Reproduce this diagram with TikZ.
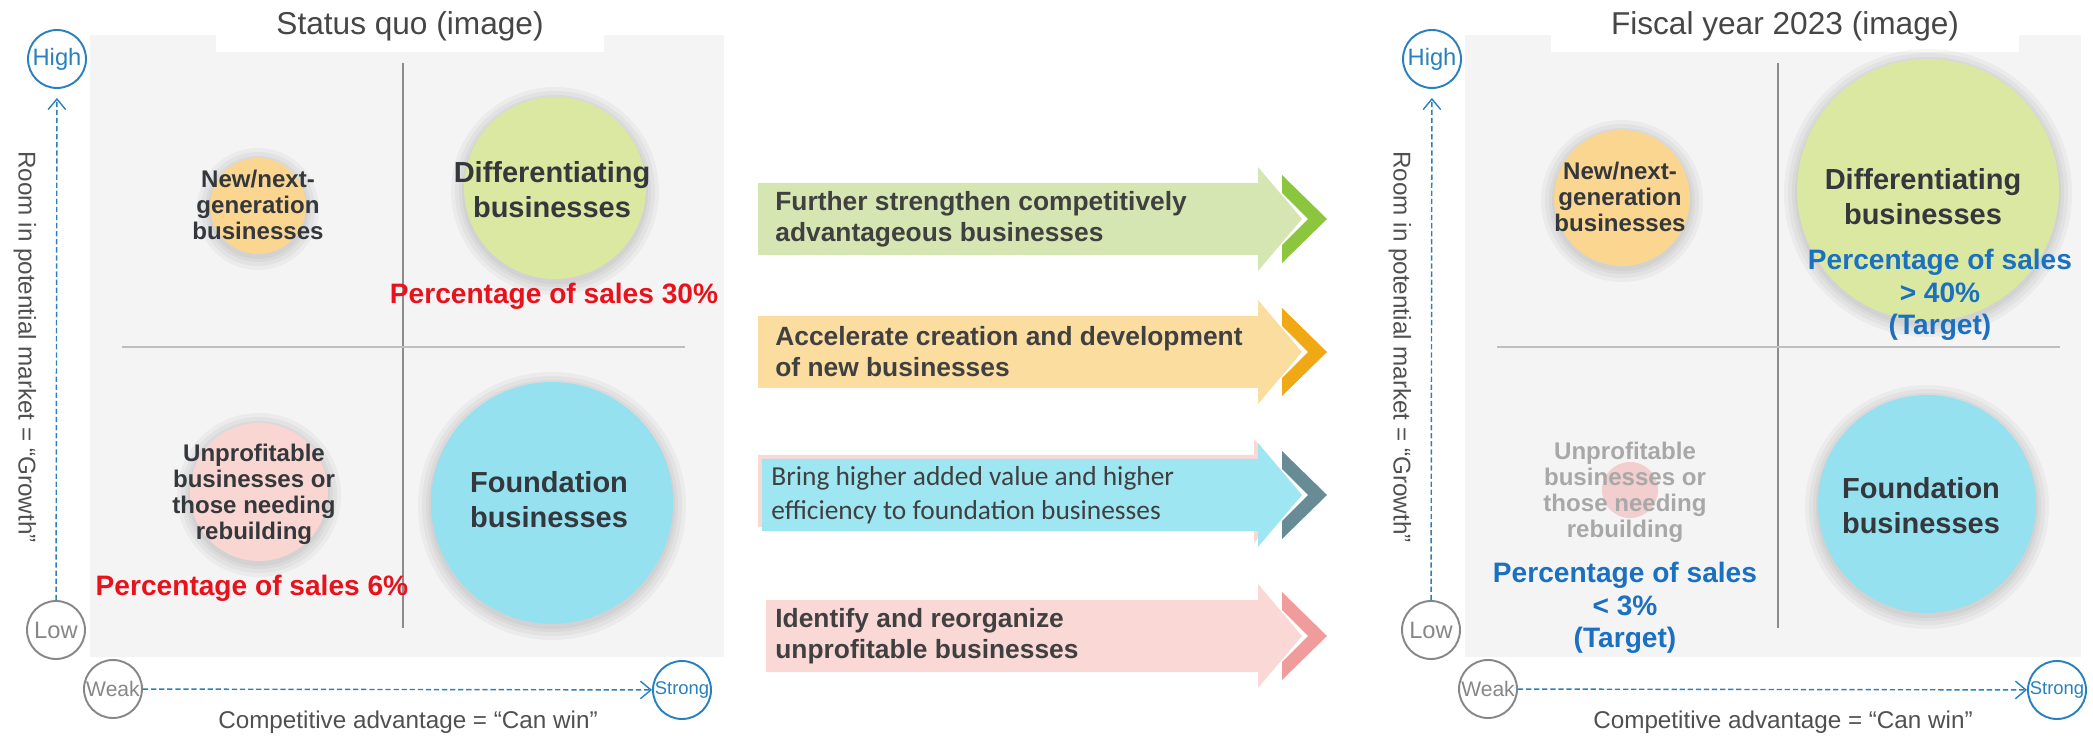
\documentclass[tikz,border=0pt]{standalone}
\usepackage{fontspec}
\setmainfont{Liberation Sans}
\newfontfamily\calibri{Carlito}
\usetikzlibrary{arrows.meta,positioning}
\definecolor{panelgray}{RGB}{244,244,244}
\definecolor{divgray}{RGB}{140,140,140}
\definecolor{divlight}{RGB}{190,190,190}
\definecolor{axisblue}{RGB}{40,128,190}
\definecolor{axisgray}{RGB}{135,135,135}
\definecolor{titlegray}{RGB}{70,70,70}
\definecolor{labelgray}{RGB}{80,80,80}
\definecolor{txtdark}{RGB}{52,56,60}
\definecolor{arrtext}{RGB}{64,64,64}
\definecolor{fadegray}{RGB}{168,168,168}
\definecolor{salesred}{RGB}{232,18,28}
\definecolor{salesblue}{RGB}{28,112,192}
\definecolor{bubOrange}{RGB}{250,214,145}
\definecolor{bubGreen}{RGB}{218,232,162}
\definecolor{bubPink}{RGB}{250,214,210}
\definecolor{bubBlue}{RGB}{150,225,240}
\definecolor{blobpink}{RGB}{242,190,190}
\definecolor{arrGreen}{RGB}{214,230,178}
\definecolor{chevGreen}{RGB}{140,198,63}
\definecolor{arrOrange}{RGB}{251,221,160}
\definecolor{chevOrange}{RGB}{240,168,20}
\definecolor{arrBlue}{RGB}{158,230,242}
\definecolor{chevBlue}{RGB}{104,140,150}
\definecolor{arrPink}{RGB}{249,216,214}
\definecolor{chevPink}{RGB}{240,156,156}

\begin{document}
\begin{tikzpicture}[x=0.02cm,y=-0.02cm,
  ring/.style={circle,draw,line width=1.1pt,minimum size=1.16cm,inner sep=0pt},
  achse/.style={dash pattern=on 3pt off 1.6pt,line width=0.8pt,draw=axisblue,
    -{Straight Barb[length=6pt,width=10pt,line width=0.8pt]}},
  blase/.style={circle,inner sep=0pt,draw=none},
  klein/.style={font=\bfseries\fontsize{13.7}{14.8}\selectfont,text=txtdark,align=center},
  gross/.style={font=\bfseries\fontsize{16.5}{20}\selectfont,text=txtdark,align=center},
  anteil/.style={font=\bfseries\fontsize{16}{18.6}\selectfont,align=center},
  pfeiltext/.style={font=\bfseries\fontsize{15}{17.6}\selectfont,text=arrtext,align=left,anchor=west,inner sep=0pt},
  achstext/.style={font=\fontsize{13.8}{16}\selectfont,text=labelgray}]
%Koordinaten in Pixeln des Originals (1 px = 0.02 cm), y zeigt nach unten
\useasboundingbox (0,0) rectangle (2093,736);
%Beide Portfolio-Felder: links Status quo, rechts 2023 (um 1375 px verschoben)
\foreach \p/\dx/\titel/\rand in {L/0/Status quo (image)/724,R/1375/Fiscal year 2023 (image)/706}{
  \fill[panelgray] (90+\dx,35) rectangle (\rand+\dx,657);
  \node[fill=white,inner xsep=1.2cm,minimum height=1.04cm,font=\fontsize{18}{20}\selectfont,text=titlegray] (titel\p) at (410+\dx,26) {\titel};
  \draw[line width=0.8pt,divgray] (403+\dx,63) -- (403+\dx,628);
  \draw[line width=1.5pt,divlight] (122+\dx,347) -- (685+\dx,347);
  \node[ring,draw=axisblue,text=axisblue,font=\fontsize{13.5}{14}\selectfont] (high\p) at (57+\dx,59) {High};
  \node[ring,draw=axisgray,text=axisgray,font=\fontsize{13.5}{14}\selectfont] (low\p) at (56+\dx,630) {Low};
  \node[ring,draw=axisgray,text=axisgray,font=\fontsize{12}{13}\selectfont] (weak\p) at (113+\dx,689) {Weak};
  \node[ring,draw=axisblue,text=axisblue,font=\fontsize{10.5}{12}\selectfont] (strong\p) at (682+\dx,690) {Strong};
  \draw[achse,shorten >=0.18cm] (low\p) -- (high\p);
  \draw[achse] (weak\p) -- (strong\p);
  \node[achstext,rotate=-90] (wachstum\p) at (25+\dx,347) {Room in potential market = “Growth”};
  \node[achstext] (vorteil\p) at (408+\dx,722) {Competitive advantage = “Can win”};
}
%weicher Schatten um die Blasen
\foreach \cx/\cy/\r in {258/206/48,555/188/91,259/492/69,552/503/121,1622/198/68,1928/190/131,1927/504/109}{
  \foreach \g in {13,9,5,2}
    \fill[black,opacity=.035] (\cx,\cy+3) circle[radius=\r+\g];
}
%Blasen links
\node[blase,fill=bubOrange,minimum size=1.92cm] (newL) at (258,206) {};
\node[blase,fill=bubGreen,minimum size=3.64cm] (diffL) at (555,188) {};
\node[blase,fill=bubPink,minimum size=2.76cm] (unprofL) at (259,492) {};
\node[blase,fill=bubBlue,minimum size=4.84cm] (foundL) at (552,503) {};
\node[klein] (newtxtL) at (258,205) {New/next-\\generation\\businesses};
\node[gross] (difftxtL) at (552,190) {Differentiating\\businesses};
\node[anteil,text=salesred] (saleDiffL) at (554,296) {Percentage of sales 30\%};
\node[klein] (unproftxtL) at (254,494) {Unprofitable\\businesses or\\those needing\\rebuilding};
\node[anteil,text=salesred] (saleUnprofL) at (252,588) {Percentage of sales 6\%};
\node[gross] (foundtxtL) at (549,500) {Foundation\\businesses};
%Blasen rechts
\node[blase,fill=bubOrange,minimum size=2.72cm] (newR) at (1622,198) {};
\node[blase,fill=bubGreen,minimum size=5.24cm] (diffR) at (1928,190) {};
\node[blase,fill=blobpink,opacity=.7,minimum size=1.12cm] (unprofR) at (1630,490) {};
\node[blase,fill=bubBlue,minimum size=4.36cm] (foundR) at (1927,504) {};
\node[klein] (newtxtR) at (1620,197) {New/next-\\generation\\businesses};
\node[gross] (difftxtR) at (1923,197) {Differentiating\\businesses};
\node[anteil,text=salesblue] (saleDiffR) at (1940,295) {Percentage of sales\\> 40\%\\(Target)};
\node[klein,text=fadegray] (unproftxtR) at (1625,492) {Unprofitable\\businesses or\\those needing\\rebuilding};
\node[anteil,text=salesblue] (saleUnprofR) at (1625,608) {Percentage of sales\\< 3\%\\(Target)};
\node[gross] (foundtxtR) at (1921,506) {Foundation\\businesses};
%Massnahmen-Pfeile in der Mitte (Koerper 72 px hoch, Spitze 104 px)
\fill[arrPink] (758,455) -- (1254,455) -- (1254,439) -- (1298,491) -- (1254,543) -- (1254,527) -- (758,527) -- cycle;
\foreach \yc/\xl/\bcol/\ccol in {219/758/arrGreen/chevGreen,352/758/arrOrange/chevOrange,495/762/arrBlue/chevBlue,636/766/arrPink/chevPink}{
  \fill[\bcol] (\xl,\yc-36) -- (1258,\yc-36) -- (1258,\yc-52) -- (1302,\yc) -- (1258,\yc+52) -- (1258,\yc+36) -- (\xl,\yc+36) -- cycle;
  \fill[\ccol] (1282,\yc-44) -- (1327,\yc) -- (1282,\yc+44) -- (1282,\yc+26) -- (1308,\yc) -- (1282,\yc-26) -- cycle;
}
\node[pfeiltext] (staerken) at (775,219) {Further strengthen competitively\\advantageous businesses};
\node[pfeiltext] (aufbau) at (775,352) {Accelerate creation and development\\of new businesses};
\node[pfeiltext,font=\calibri\fontsize{15.6}{19.3}\selectfont] (mehrwert) at (771,495) {Bring higher added value and higher\\efficiency to foundation businesses};
\node[pfeiltext] (umbau) at (775,636) {Identify and reorganize\\unprofitable businesses};
\end{tikzpicture}
\end{document}
